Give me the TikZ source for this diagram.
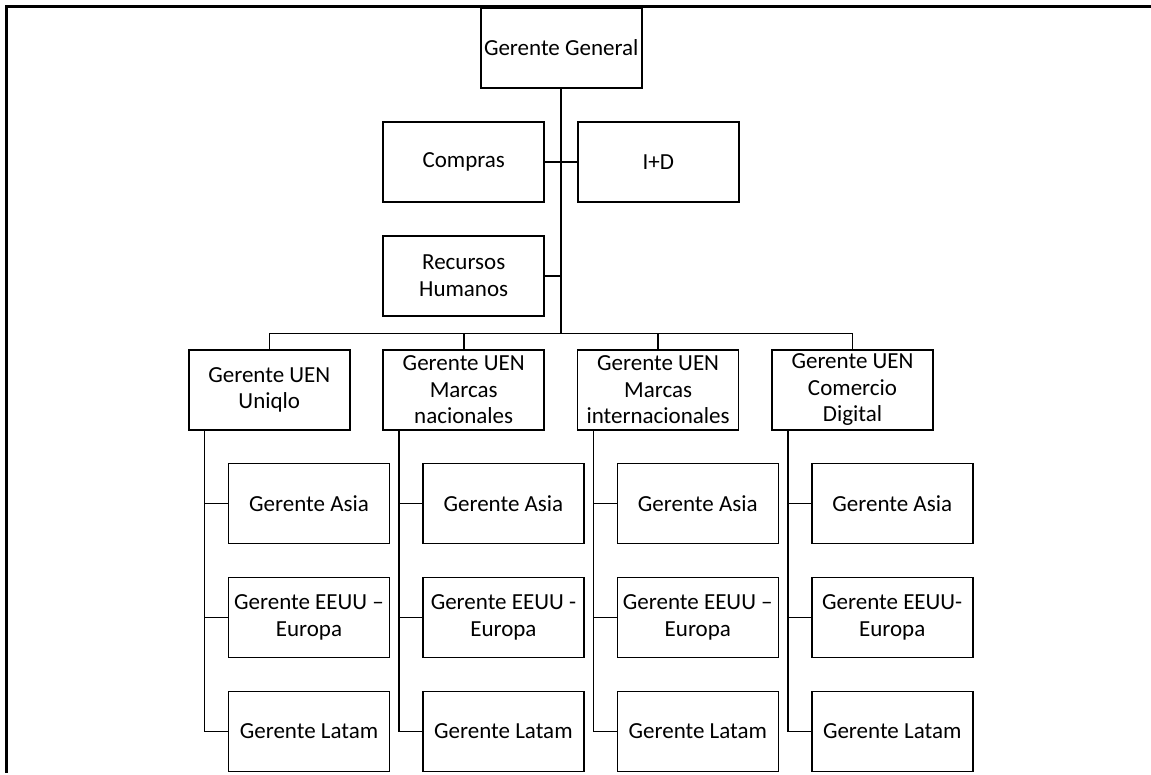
\documentclass[tikz,border=0pt]{standalone}
\usepackage{fontspec}
\setmainfont{Carlito}
\usetikzlibrary{positioning, calc}

\begin{document}
\begin{tikzpicture}[x=1pt, y=1pt,
        box/.style={draw, line width=1.6pt, outer sep=0pt, inner sep=1pt, minimum width=161pt, minimum height=80pt, align=center, font=\fontsize{23}{26.5}\selectfont},
        link/.style={line width=1.6pt}
    ]
    \useasboundingbox (0,0) rectangle (1151,774);
    \clip (0,2) rectangle (1151,774);
    \draw[line width=2.4pt] (6.5,0) -- (6.5,767.5) -- (1151,767.5);

    % top of the chart
    \node[box] (gg) at (561.2,726.2) {Gerente General};
    \node[box, below left=34pt and 17pt of gg.south] (compras) {Compras};
    \node[box, below right=34pt and 16.5pt of gg.south] (idi) {I+D};
    \node[box, below=34pt of compras] (rrhh) {Recursos\\Humanos};

    % business units
    \node[box, below=34pt of rrhh] (uen2) {Gerente UEN\\Marcas\\nacionales};
    \node[box, left=33.4pt of uen2] (uen1) {Gerente UEN\\Uniqlo};
    \node[box, right=33.4pt of uen2] (uen3) {Gerente UEN\\Marcas\\internacionales};
    \node[box, right=33.4pt of uen3] (uen4) {Gerente UEN\\Comercio\\Digital};

    \coordinate (bus) at ($(uen1.north)+(0,16.4)$);
    \draw[link] (gg.south) -- (gg.south |- bus);
    \draw[link] (compras.east) -- (idi.west);
    \draw[link] (rrhh.east) -- (rrhh.east -| gg.south);
    \draw[link] (uen1.north) |- (bus) -| (uen4.north);
    \draw[link] (uen2.north) -- (uen2.north |- bus);
    \draw[link] (uen3.north) -- (uen3.north |- bus);

    % regional managers under each unit
    \foreach \i/\eu in {1/{Gerente EEUU --\\Europa}, 2/{Gerente EEUU -\\Europa}, 3/{Gerente EEUU --\\Europa}, 4/{Gerente EEUU-\\Europa}} {
        \node[box, below right=33.7pt and 39.7pt of uen\i.south west] (asia\i) {Gerente Asia};
        \node[box, below=34pt of asia\i] (eeuu\i) {\eu};
        \node[box, below=34pt of eeuu\i] (latam\i) {Gerente Latam};
        \coordinate (v\i) at ($(uen\i.south west)+(15.7,0)$);
        \draw[link] (v\i) |- (latam\i.west);
        \draw[link] (asia\i.west) -- (asia\i.west -| v\i);
        \draw[link] (eeuu\i.west) -- (eeuu\i.west -| v\i);
    }
\end{tikzpicture}
\end{document}
